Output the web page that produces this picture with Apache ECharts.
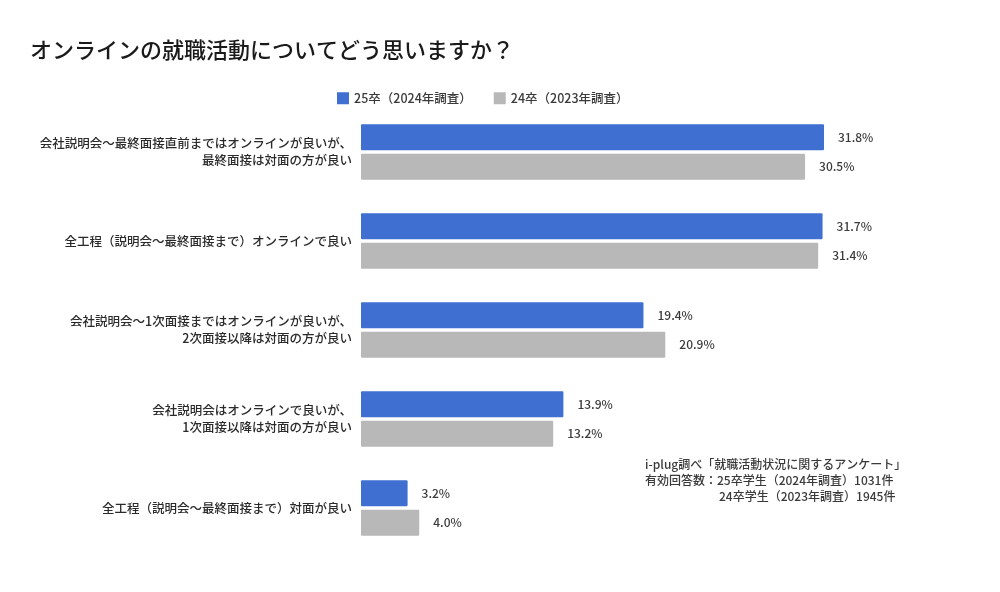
<!DOCTYPE html>
<html><head><meta charset="utf-8">
<script src="https://cdn.jsdelivr.net/npm/echarts@6/dist/echarts.min.js"></script>
<style>html,body{margin:0;padding:0;background:#fff}#c{width:1000px;height:592px}</style>
</head><body><div id="c"></div>
<script>
const categories = [
  '会社説明会～最終面接直前まではオンラインが良いが、\n最終面接は対面の方が良い',
  '全工程（説明会～最終面接まで）オンラインで良い',
  '会社説明会～1次面接まではオンラインが良いが、\n2次面接以降は対面の方が良い',
  '会社説明会はオンラインで良いが、\n1次面接以降は対面の方が良い',
  '全工程（説明会～最終面接まで）対面が良い'
];
const series25 = [31.8, 31.7, 19.4, 13.9, 3.2];
const series24 = [30.5, 31.4, 20.9, 13.2, 4.0];
const seriesNames = ['25卒（2024年調査）', '24卒（2023年調査）'];
const titleText = 'オンラインの就職活動についてどう思いますか？';
const noteLines = [
  'i-plug調べ「就職活動状況に関するアンケート」',
  '有効回答数：25卒学生（2024年調査）1031件',
  '24卒学生（2023年調査）1945件'
];

const FONT = '"Noto Sans CJK JP", "Noto Sans", sans-serif';
const chart = echarts.init(document.getElementById('c'), null, {renderer: 'canvas'});
const labelCfg = {
  show: true, position: 'right', distance: 14,
  formatter: p => p.value.toFixed(1) + '%',
  color: '#3a3a3a', fontSize: 12, fontWeight: 500, fontFamily: FONT
};
const noteStyle = {fill: '#3a3a3a', font: '500 12px ' + FONT};
chart.setOption({
  backgroundColor: '#fff',
  textStyle: {fontFamily: FONT},
  title: {
    text: titleText, left: 25, top: 34,
    textStyle: {fontSize: 22, fontWeight: 500, color: '#1a1a1a', fontFamily: FONT}
  },
  legend: {
    data: seriesNames, left: 332, top: 87,
    icon: 'rect', itemWidth: 12, itemHeight: 12, itemGap: 22,
    textStyle: {fontSize: 12.5, fontWeight: 500, color: '#3a3a3a', fontFamily: FONT}
  },
  grid: {left: 361, top: 107.5, width: 582.4, height: 445, containLabel: false},
  xAxis: {
    type: 'value', min: 0, max: 40,
    show: false
  },
  yAxis: {
    type: 'category', data: categories, inverse: true,
    axisLine: {show: false}, axisTick: {show: false},
    axisLabel: {
      margin: 9, fontSize: 12.5, fontWeight: 500, color: '#2a2a2a', lineHeight: 17,
      align: 'right', fontFamily: FONT
    }
  },
  graphic: [
    {type: 'text', left: 645, top: 458, style: Object.assign({text: noteLines[0]}, noteStyle)},
    {type: 'text', left: 645, top: 474, style: Object.assign({text: noteLines[1]}, noteStyle)},
    {type: 'text', left: 719, top: 490, style: Object.assign({text: noteLines[2]}, noteStyle)}
  ],
  series: [
    {name: seriesNames[0], type: 'bar', data: series25, barWidth: 26, barGap: '14%',
     itemStyle: {color: '#3f6fd0', borderRadius: 1}, label: labelCfg},
    {name: seriesNames[1], type: 'bar', data: series24, barWidth: 26,
     itemStyle: {color: '#b8b8b8', borderRadius: 1}, label: labelCfg}
  ]
});
</script></body></html>
